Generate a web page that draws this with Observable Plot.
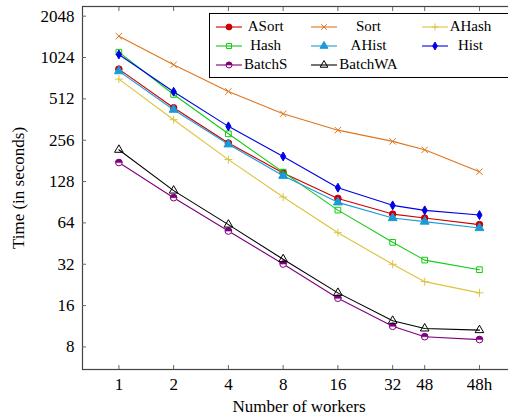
<!DOCTYPE html>
<html>
<head>
<meta charset="utf-8">
<script src="https://cdn.jsdelivr.net/npm/d3@7"></script>
<script src="https://cdn.jsdelivr.net/npm/@observablehq/plot@0.6"></script>
<style>
  body { margin: 0; background: #fff; }
  #chart { position: relative; width: 508px; height: 417px; overflow: hidden; font-family: "Liberation Serif", serif; }
  #chart > svg { max-width: none !important; }
  #legend {
    position: absolute; left: 209px; top: 13px; width: 296px; height: 60px;
    border: 1px solid #000; background: #fff;
    display: grid; grid-template-columns: 26px max-content 26px max-content 26px max-content;
    grid-auto-rows: 19px; align-items: center;
    padding: 3px 0 0 6px; box-sizing: content-box;
    font-size: 15px; line-height: 19px; color: #000;
  }
  #legend .lab { justify-self: center; padding: 0 0 0 2px; }
  #legend .gap { margin-right: 24px; }
  #legend svg { display: block; }
</style>
</head>
<body>
<div id="chart"></div>
<script>
// Worker counts on the x axis (96 is the hyper-threaded 48h run, one doubling past 48)
const workers = [1, 2, 4, 8, 16, 32, 48, 96];
const workerLabels = ["1", "2", "4", "8", "16", "32", "48", "48h"];
const yTicks = [8, 16, 32, 64, 128, 256, 512, 1024, 2048];

const seriesNames = ["ASort", "Sort", "AHash", "Hash", "AHist", "Hist", "BatchS", "BatchWA"];

// Running time in seconds for each strategy
const aSort   = [843, 441, 244, 148, 96.5, 74.2, 69.4, 62.2];
const sort    = [1465, 907, 580, 399, 303, 251, 218, 151];
const aHash   = [713, 361, 185, 98.7, 54.3, 32, 23.9, 19.8];
const hash    = [1120, 551, 285, 150, 79.3, 46.2, 34.3, 29.2];
const aHist   = [815, 427, 239, 141, 90.3, 69.4, 65.4, 58.7];
const hist    = [1078, 577, 323, 195, 115.5, 85.9, 79, 73];
const batchS  = [176, 97.7, 55.8, 32.1, 18.1, 11.3, 9.5, 9.05];
const batchWA = [218, 110, 62.2, 34.8, 19.8, 12.4, 10.9, 10.6];

const seriesValues = [aSort, sort, aHash, hash, aHist, hist, batchS, batchWA];

// Circle with only its upper half filled
const halfTop = {
  draw(ctx, size) {
    const r = Math.sqrt(size / Math.PI);
    ctx.moveTo(-r, 0);
    ctx.arc(0, 0, r, Math.PI, 2 * Math.PI);
    ctx.closePath();
  }
};

// Look of each series: colour, marker symbol and marker fill
const styles = {
  ASort:   {color: "#cc0000", symbol: "circle",   fill: "#cc0000", r: 3.3},
  Sort:    {color: "#e0761e", symbol: "times",    fill: "none",    r: 3.0},
  AHash:   {color: "#dcc43c", symbol: "plus",     fill: "none",    r: 2.7},
  Hash:    {color: "#11cc11", symbol: "square",   fill: "none",    r: 3.2},
  AHist:   {color: "#1a9ad6", symbol: "triangle", fill: "#1a9ad6", r: 3.3},
  Hist:    {color: "#0000e6", symbol: "diamond",  fill: "#0000e6", r: 2.7},
  BatchS:  {color: "#7f007f", symbol: "circle",   fill: "#fff",    r: 3.3, half: true},
  BatchWA: {color: "#000000", symbol: "triangle", fill: "none",    r: 3.2}
};

const rows = seriesNames.map((name, i) =>
  seriesValues[i].map((t, j) => ({series: name, workers: workers[j], time: t}))
);

const marks = [];
rows.forEach((data, i) => {
  const s = styles[seriesNames[i]];
  marks.push(Plot.line(data, {x: "workers", y: "time", stroke: s.color, strokeWidth: 1.1}));
  marks.push(Plot.dot(data, {x: "workers", y: "time", symbol: s.symbol, r: s.r, stroke: s.color, fill: s.fill, strokeWidth: 1}));
  if (s.half) marks.push(Plot.dot(data, {x: "workers", y: "time", symbol: halfTop, r: s.r, fill: s.color, stroke: s.color, strokeWidth: 0.6}));
});

const chart = Plot.plot({
  width: 516,
  height: 417,
  marginLeft: 82,
  marginRight: 1,
  marginTop: 6,
  marginBottom: 48,
  style: {fontFamily: "Liberation Serif", fontSize: "17px", color: "#000", background: "#fff"},
  x: {type: "log", base: 2, domain: [0.631, 151.5]},
  y: {type: "log", base: 2, domain: [5.48, 2409]},
  marks: [
    Plot.frame({stroke: "#444", strokeWidth: 1.2}),
    Plot.axisX({ticks: workers, tickFormat: d => workerLabels[workers.indexOf(d)], tickSize: -4, tickPadding: 12,
                stroke: "#666", label: "Number of workers", labelAnchor: "center", labelOffset: 42, labelArrow: "none"}),
    Plot.axisX({anchor: "top", ticks: workers, tickFormat: () => "", tickSize: -4, stroke: "#666", label: null}),
    Plot.axisY({ticks: yTicks, tickFormat: d => String(d), tickSize: -4, tickPadding: 12,
                stroke: "#666", label: "Time (in seconds)", labelAnchor: "center", labelOffset: 71, labelArrow: "none"}),
    ...marks
  ]
});

const root = document.getElementById("chart");
root.appendChild(chart);

// Legend: three columns of line samples with their marker and name
const legend = document.createElement("div");
legend.id = "legend";
seriesNames.forEach((name, i) => {
  const s = styles[name];
  const svg = d3.create("svg").attr("width", 26).attr("height", 12);
  svg.append("line").attr("x1", 0).attr("x2", 26).attr("y1", 6).attr("y2", 6)
    .attr("stroke", s.color).attr("stroke-width", 1.1);
  const sym = {circle: d3.symbolCircle, times: d3.symbolTimes, plus: d3.symbolPlus, square: d3.symbolSquare,
               triangle: d3.symbolTriangle, diamond: d3.symbolDiamond}[s.symbol];
  const size = Math.PI * s.r * s.r * 0.8;
  svg.append("path").attr("transform", "translate(13,6)").attr("d", d3.symbol(sym, size)())
    .attr("fill", s.fill).attr("stroke", s.color);
  if (s.half) svg.append("path").attr("transform", "translate(13,6)").attr("d", d3.symbol(halfTop, size)())
    .attr("fill", s.color).attr("stroke", s.color).attr("stroke-width", 0.6);
  legend.appendChild(svg.node());
  const lab = document.createElement("div");
  lab.className = "lab" + ((i % 3) < 2 ? " gap" : "");
  lab.textContent = name;
  legend.appendChild(lab);
});
root.appendChild(legend);
</script>
</body>
</html>
